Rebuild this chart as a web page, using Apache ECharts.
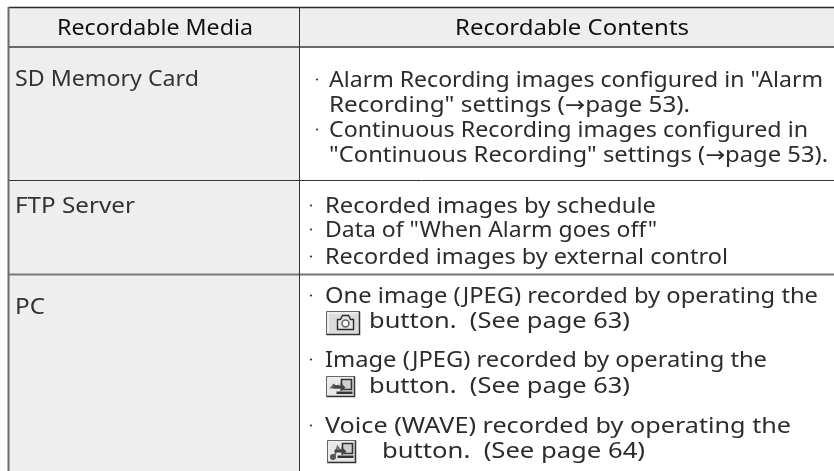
<!DOCTYPE html>
<html><head><meta charset="utf-8">
<style>html,body{margin:0;padding:0;background:#fff}#c{width:834px;height:471px}</style>
<script src="https://cdn.jsdelivr.net/npm/echarts@6/dist/echarts.min.js"></script>
</head><body><div id="c"></div>
<script>
const headerTexts = ['Recordable Media', 'Recordable Contents'];
const mediaNames = ['SD Memory Card', 'FTP Server', 'PC'];
const contentLines = [
  'Alarm Recording images configured in "Alarm',
  'Recording" settings (→page 53).',
  'Continuous Recording images configured in',
  '"Continuous Recording" settings (→page 53).',
  'Recorded images by schedule',
  'Data of "When Alarm goes off"',
  'Recorded images by external control',
  'One image (JPEG) recorded by operating the',
  'button.  (See page 63)',
  'Image (JPEG) recorded by operating the',
  'button.  (See page 63)',
  'Voice (WAVE) recorded by operating the',
  'button.  (See page 64)'
];
// layout, kept apart from the content: [left, right, baseline, bulletX or -1]
const headerLayout = [[57,253,35],[455,689,35]];
const mediaLayout = [[15,199,86],[15,135,213],[15,45,314]];
const contentLayout = [
  [329,823,87,317],[329,690,112,-1],[329,808,137,317],[329,828,162,-1],
  [325,656,213,311],[325,657,237,311],[325,728,264,311],
  [325,818,303,311],[369,630,328,-1],
  [325,767,367,311],[369,630,393,-1],
  [325,791,433,311],[382,645,458,-1]
];
const fills = [[9,8,834,47,'#eeeeee'],[9,47,299,471,'#eeeeee']];
const rules = [
  [0,8,7.5,834,7.5,'#2a2a2a',1.5],
  [0,8,47,834,47,'#6a6a6a',2],
  [0,9,180.5,834,180.5,'#333333',1],
  [0,9,274.5,834,274.5,'#777777',2],
  [0,8.5,7,8.5,471,'#6a6a6a',2],
  [0,299.5,7,299.5,471,'#333333',1]
];
const icons = [[326,311,33,23,'camera'],[326,376,28,20,'image'],[327,440,28,22,'voice']];

const FONT = '"Noto Sans","DejaVu Sans"';
const SIZE = 21.5;
const meas = document.createElement('canvas').getContext('2d');
function textEl(api, s, l, color){
  meas.font = SIZE + 'px ' + FONT;
  const w = meas.measureText(s).width;
  const p = api.coord([l[0], l[2]]);
  const r = api.coord([l[1], l[2]]);
  return {type:'text', x:p[0], y:p[1]-6.5, scaleX:(r[0]-p[0])/w,
    style:{text:s, font:SIZE+'px '+FONT, fill:color, verticalAlign:'middle', align:'left'}};
}
const chart = echarts.init(document.getElementById('c'), null, {renderer:'canvas'});
function iconShapes(kind, w, h){
  const c = [
    {type:'rect', shape:{x:0,y:0,width:w,height:h}, style:{fill:'#dcdcdc', stroke:'#666', lineWidth:1}},
    {type:'polyline', shape:{points:[[0,h],[w,h],[w,0]]}, style:{stroke:'#333', fill:null, lineWidth:1.5}},
    {type:'polyline', shape:{points:[[1.5,h-1.5],[1.5,1.5],[w-1.5,1.5]]}, style:{stroke:'#fff', fill:null, lineWidth:1}}
  ];
  const pc = (x)=>[
    {type:'rect', shape:{x:x,y:3,width:10,height:10}, style:{fill:'#cfcfcf', stroke:'#333', lineWidth:1.6}},
    {type:'polygon', shape:{points:[[x-8,9],[x-1,9],[x-1,6],[x+4,11],[x-1,15],[x-1,12],[x-8,12]]}, style:{fill:'#444'}},
    {type:'rect', shape:{x:x-5,y:15,width:w-x+3,height:2.5}, style:{fill:'#333'}}
  ];
  if(kind==='camera'){
    c.push({type:'polygon', shape:{points:[[11,18],[11,8],[14,8],[16,4],[22,4],[24,8],[27,8],[27,18]]}, style:{fill:'#e8e8e8',stroke:'#2a2a2a',lineWidth:1.4}});
    c.push({type:'circle', shape:{cx:19,cy:12,r:3.5}, style:{fill:'#fff',stroke:'#666',lineWidth:1.6}});
  } else if(kind==='image'){
    c.push({type:'rect', shape:{x:2,y:2,width:w-4,height:h-4}, style:{fill:'#e8e8e8'}});
    c.push({type:'polygon', shape:{points:[[3,12],[7,7],[10,9],[12,8],[14,12]]}, style:{fill:'#666'}});
    c.push(...pc(15));
  } else {
    c.push({type:'rect', shape:{x:2,y:2,width:w-4,height:h-4}, style:{fill:'#e8e8e8'}});
    c.push({type:'polyline', shape:{points:[[7,16],[10,6],[13,10]]}, style:{stroke:'#666',fill:null,lineWidth:1.6}});
    c.push({type:'circle', shape:{cx:5.5,cy:16.5,r:3}, style:{fill:'#555'}});
    c.push(...pc(15));
  }
  return c;
}
chart.setOption({
  animation:false,
  grid:{left:0,right:0,top:0,bottom:0},
  xAxis:{type:'value',min:0,max:834,show:false},
  yAxis:{type:'value',min:0,max:471,inverse:true,show:false},
  series:[
    {type:'custom', silent:true, data:fills, z:1, renderItem:(p,api)=>{
      const f = fills[p.dataIndex];
      const a = api.coord([f[0],f[1]]), b = api.coord([f[2],f[3]]);
      return {type:'rect', shape:{x:a[0],y:a[1],width:b[0]-a[0],height:b[1]-a[1]}, style:{fill:f[4]}};
    }},
    {type:'custom', silent:true, data:rules, z:2, renderItem:(p,api)=>{
      const r = rules[p.dataIndex];
      const a = api.coord([r[1],r[2]]), b = api.coord([r[3],r[4]]);
      return {type:'line', shape:{x1:a[0],y1:a[1],x2:b[0],y2:b[1]}, style:{stroke:r[5],lineWidth:r[6]}};
    }},
    {type:'custom', silent:true, data:headerTexts, z:3, renderItem:(p,api)=>
      textEl(api, headerTexts[p.dataIndex], headerLayout[p.dataIndex], '#111111')},
    {type:'custom', silent:true, data:mediaNames, z:3, renderItem:(p,api)=>
      textEl(api, mediaNames[p.dataIndex], mediaLayout[p.dataIndex], '#333333')},
    {type:'custom', silent:true, data:contentLines, z:3, renderItem:(p,api)=>{
      const l = contentLayout[p.dataIndex];
      const t = textEl(api, contentLines[p.dataIndex], l, '#2c2c2c');
      if(l[3] < 0) return t;
      const d = api.coord([l[3], l[2]-7.5]);
      return {type:'group', children:[t,
        {type:'circle', shape:{cx:d[0],cy:d[1],r:1.1}, style:{fill:'#333'}}]};
    }},
    {type:'custom', silent:true, data:icons, z:3, renderItem:(p,api)=>{
      const k = icons[p.dataIndex];
      const a = api.coord([k[0],k[1]]);
      return {type:'group', x:a[0]+0.5, y:a[1]+0.5, children:iconShapes(k[4],k[2],k[3])};
    }}
  ]
});
</script></body></html>
